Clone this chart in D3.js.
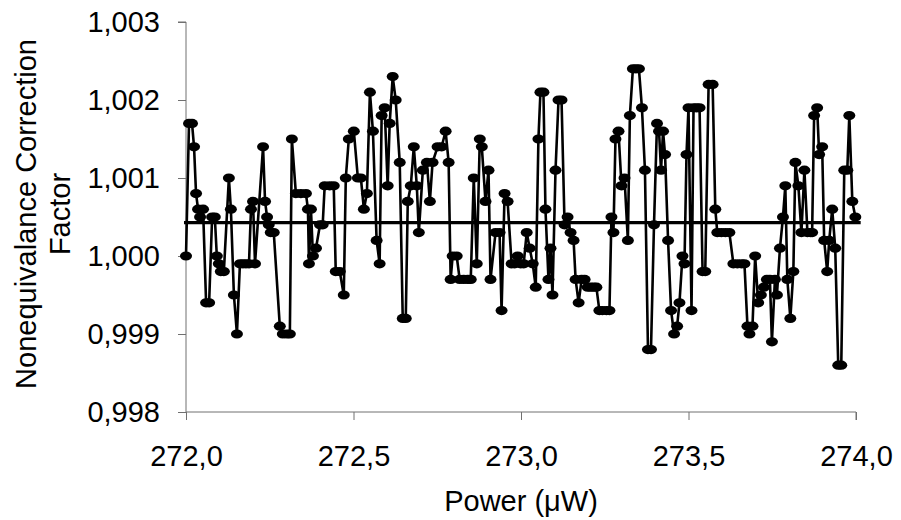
<!DOCTYPE html>
<html>
<head>
<meta charset="utf-8">
<script src="https://cdn.jsdelivr.net/npm/d3@7"></script>
<style>
  html, body { margin: 0; padding: 0; background: #fff; }
  svg { display: block; }
  text { font-family: "Liberation Sans", Arial, sans-serif; fill: #000; }
</style>
</head>
<body>
<svg id="chart" width="901" height="520"></svg>
<script>
// ---- data ----
const power = [
  272.000, 272.009, 272.018, 272.024, 272.030, 272.036, 272.042, 272.051, 272.060, 272.069,
  272.078, 272.086, 272.092, 272.098, 272.104, 272.113, 272.128, 272.134, 272.143, 272.152,
  272.161, 272.170, 272.179, 272.188, 272.194, 272.200, 272.206, 272.230, 272.236, 272.242,
  272.247, 272.253, 272.262, 272.280, 272.289, 272.301, 272.310, 272.316, 272.328, 272.343,
  272.358, 272.364, 272.367, 272.373, 272.379, 272.388, 272.400, 272.408, 272.414, 272.429,
  272.441, 272.447, 272.459, 272.471, 272.477, 272.486, 272.501, 272.513, 272.522, 272.531,
  272.540, 272.549, 272.558, 272.569, 272.578, 272.584, 272.593, 272.602, 272.608, 272.617,
  272.626, 272.638, 272.647, 272.656, 272.662, 272.671, 272.680, 272.689, 272.695, 272.707,
  272.719, 272.728, 272.736, 272.751, 272.763, 272.775, 272.784, 272.790, 272.796, 272.808,
  272.817, 272.829, 272.841, 272.850, 272.859, 272.868, 272.877, 272.883, 272.894, 272.903,
  272.909, 272.924, 272.936, 272.942, 272.951, 272.960, 272.972, 272.981, 272.990, 272.999,
  273.008, 273.017, 273.026, 273.035, 273.044, 273.052, 273.058, 273.067, 273.073, 273.082,
  273.088, 273.094, 273.103, 273.112, 273.121, 273.130, 273.139, 273.148, 273.157, 273.163,
  273.172, 273.181, 273.190, 273.199, 273.208, 273.217, 273.225, 273.234, 273.243, 273.255,
  273.264, 273.270, 273.276, 273.282, 273.291, 273.300, 273.309, 273.319, 273.325, 273.334,
  273.343, 273.352, 273.361, 273.370, 273.379, 273.388, 273.397, 273.406, 273.412, 273.418,
  273.424, 273.430, 273.439, 273.448, 273.457, 273.466, 273.473, 273.482, 273.488, 273.494,
  273.500, 273.509, 273.515, 273.524, 273.533, 273.542, 273.550, 273.560, 273.572, 273.580,
  273.586, 273.598, 273.610, 273.622, 273.634, 273.646, 273.658, 273.667, 273.676, 273.682,
  273.691, 273.699, 273.708, 273.716, 273.725, 273.734, 273.743, 273.749, 273.758, 273.764,
  273.773, 273.782, 273.789, 273.795, 273.804, 273.813, 273.819, 273.828, 273.837, 273.846,
  273.855, 273.864, 273.869, 273.875, 273.884, 273.890, 273.899, 273.905, 273.914, 273.920,
  273.929, 273.938, 273.947, 273.956, 273.965, 273.974, 273.980, 273.989, 273.998
];
const factor = [
  1.0000, 1.0017, 1.0017, 1.0014, 1.0008, 1.0006, 1.0005, 1.0006, 0.9994, 0.9994,
  1.0005, 1.0005, 1.0000, 0.9999, 0.9998, 0.9998, 1.0010, 1.0006, 0.9995, 0.9990,
  0.9999, 0.9999, 0.9999, 0.9999, 1.0006, 1.0007, 0.9999, 1.0014, 1.0007, 1.0005,
  1.0004, 1.0003, 1.0003, 0.9991, 0.9990, 0.9990, 0.9990, 1.0015, 1.0008, 1.0008,
  1.0008, 1.0006, 0.9999, 1.0006, 1.0000, 1.0001, 1.0004, 1.0004, 1.0009, 1.0009,
  1.0009, 0.9998, 0.9998, 0.9995, 1.0010, 1.0015, 1.0016, 1.0010, 1.0010, 1.0006,
  1.0008, 1.0021, 1.0016, 1.0002, 0.9999, 1.0018, 1.0019, 1.0009, 1.0017, 1.0023,
  1.0020, 1.0012, 0.9992, 0.9992, 1.0007, 1.0009, 1.0014, 1.0009, 1.0003, 1.0011,
  1.0012, 1.0007, 1.0012, 1.0014, 1.0014, 1.0016, 1.0012, 0.9997, 1.0000, 1.0000,
  0.9997, 0.9997, 0.9997, 0.9997, 1.0010, 0.9999, 1.0015, 1.0014, 1.0007, 1.0011,
  0.9997, 1.0003, 1.0003, 0.9993, 1.0008, 1.0007, 0.9999, 0.9999, 1.0000, 0.9999,
  0.9999, 1.0003, 1.0001, 0.9999, 0.9996, 1.0015, 1.0021, 1.0021, 1.0006, 0.9997,
  1.0001, 0.9995, 1.0011, 1.0020, 1.0020, 1.0004, 1.0005, 1.0003, 1.0002, 0.9997,
  0.9994, 0.9997, 0.9997, 0.9996, 0.9996, 0.9996, 0.9996, 0.9993, 0.9993, 0.9993,
  0.9993, 1.0005, 1.0003, 1.0015, 1.0016, 1.0009, 1.0010, 1.0002, 1.0018, 1.0024,
  1.0024, 1.0024, 1.0019, 1.0011, 0.9988, 0.9988, 1.0004, 1.0017, 1.0016, 1.0011,
  1.0016, 1.0013, 1.0002, 0.9993, 0.9990, 0.9991, 0.9994, 1.0000, 0.9999, 1.0013,
  1.0019, 0.9993, 1.0019, 1.0019, 1.0019, 0.9998, 0.9998, 1.0022, 1.0022, 1.0006,
  1.0003, 1.0003, 1.0003, 1.0003, 0.9999, 0.9999, 0.9999, 0.9999, 0.9991, 0.9990,
  0.9991, 1.0000, 0.9994, 0.9995, 0.9996, 0.9997, 0.9997, 0.9989, 0.9997, 0.9995,
  1.0001, 1.0005, 1.0009, 0.9997, 0.9992, 0.9998, 1.0012, 1.0009, 1.0003, 1.0011,
  1.0003, 1.0003, 1.0003, 1.0018, 1.0019, 1.0013, 1.0014, 1.0002, 0.9998, 1.0002,
  1.0006, 1.0001, 0.9986, 0.9986, 1.0011, 1.0011, 1.0018, 1.0007, 1.0005
];
const meanValue = 1.000427;
const meanSpan = [271.994, 274.014];
const xTicks = [272.0, 272.5, 273.0, 273.5, 274.0];
const yTicks = [0.998, 0.999, 1.000, 1.001, 1.002, 1.003];
const xTitle = "Power (\u03BCW)";
const yTitleLines = ["Nonequivalance Correction", "Factor"];

// ---- chart ----
(function () {
const svg = d3.select("#chart");
const pLeft = 186, pRight = 856, pTop = 22, pBottom = 412;
const x = d3.scaleLinear().domain([272, 274]).range([pLeft, pRight]);
const y = d3.scaleLinear().domain([0.998, 1.003]).range([pBottom, pTop]);

const loc = d3.formatLocale({decimal: ",", thousands: ".", grouping: [3], currency: ["", ""]});
const fx = loc.format(".1f"), fy = loc.format(".3f");
const axisColor = "#707070";
const fontSize = 29;
const fam = "Liberation Sans, Arial, sans-serif";

// y axis
const gy = svg.append("g").attr("transform", `translate(${pLeft},0)`)
  .call(d3.axisLeft(y).tickValues(yTicks).tickFormat(fy).tickSize(8).tickPadding(18));
gy.select(".domain").attr("stroke", axisColor).attr("d", `M-8,${pTop}H0V${pBottom}`);
gy.selectAll(".tick line").attr("stroke", axisColor);
gy.selectAll(".tick text").attr("font-size", fontSize).attr("font-family", fam).attr("fill", "#000");

// x axis
const gx = svg.append("g").attr("transform", `translate(0,${pBottom})`)
  .call(d3.axisBottom(x).tickValues(xTicks).tickFormat(fx).tickSize(8).tickPadding(25));
gx.select(".domain").attr("stroke", axisColor).attr("d", `M${pLeft},0H${pRight}V8`);
gx.selectAll(".tick line").attr("stroke", axisColor);
gx.selectAll(".tick text").attr("font-size", fontSize).attr("font-family", fam).attr("fill", "#000");

// titles
svg.append("text").attr("x", (pLeft + pRight) / 2).attr("y", 511)
  .attr("text-anchor", "middle").attr("font-size", fontSize).text(xTitle);
const yt = svg.append("g").attr("transform", `translate(0,${(pTop + pBottom) / 2 - 3}) rotate(-90)`);
yTitleLines.forEach((t, i) => {
  yt.append("text").attr("x", 0).attr("y", 36 + i * 34)
    .attr("text-anchor", "middle").attr("font-size", fontSize).text(t);
});

// data
const pts = power.map((p, i) => ({p, v: factor[i]}));
svg.append("path").datum(pts)
  .attr("fill", "none").attr("stroke", "#000").attr("stroke-width", 2.6)
  .attr("stroke-linejoin", "round")
  .attr("d", d3.line().x(d => x(d.p)).y(d => y(d.v)));
svg.append("g").selectAll("ellipse").data(pts).join("ellipse")
  .attr("cx", d => x(d.p)).attr("cy", d => y(d.v))
  .attr("rx", 6).attr("ry", 4.6).attr("fill", "#000");

// mean line
svg.append("line")
  .attr("x1", x(meanSpan[0])).attr("x2", x(meanSpan[1]))
  .attr("y1", y(meanValue)).attr("y2", y(meanValue))
  .attr("stroke", "#000").attr("stroke-width", 3.2);
})();
</script>
</body>
</html>
